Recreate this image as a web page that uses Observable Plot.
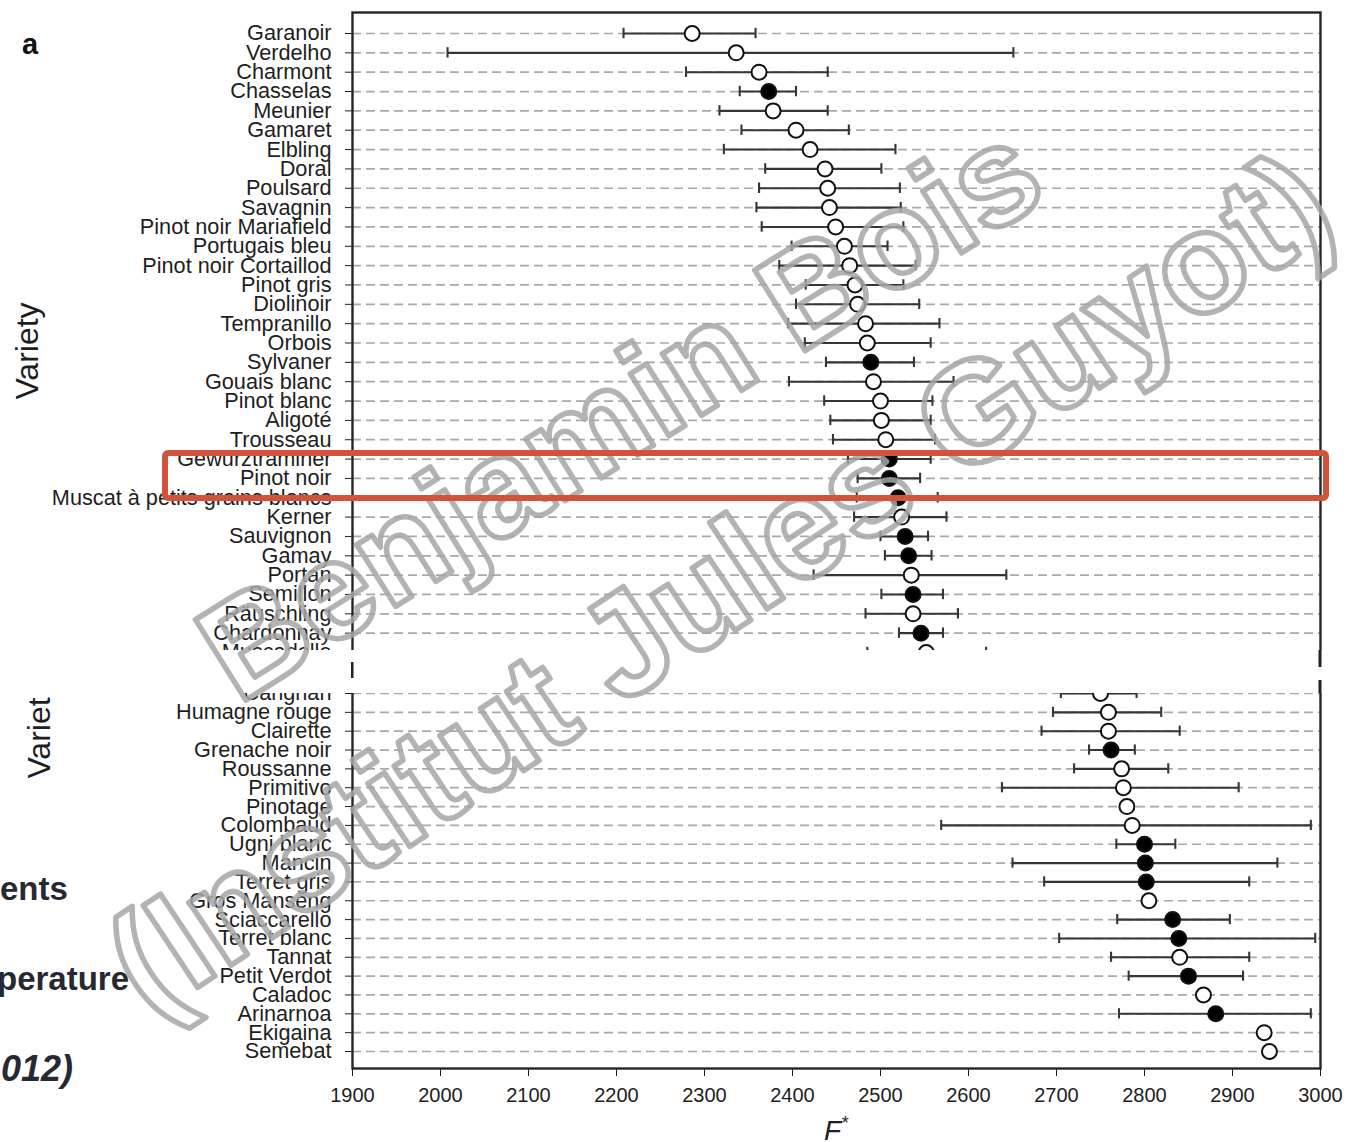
<!DOCTYPE html>
<html>
<head>
<meta charset="utf-8">
<script src="https://cdn.jsdelivr.net/npm/d3@7"></script>
<script src="https://cdn.jsdelivr.net/npm/@observablehq/plot@0.6"></script>
<style>
html,body{margin:0;padding:0;background:#fff;overflow:hidden;}
#page{position:relative;width:1347px;height:1142px;overflow:hidden;background:#fff;}
.clip{position:absolute;left:0;width:1347px;overflow:hidden;}
#top{top:0;height:650px;}
#bot{top:693px;height:449px;}
#top svg{position:absolute;left:0;top:0;}
#bot svg{position:absolute;left:0;top:-93px;}
#ov{position:absolute;left:0;top:0;pointer-events:none;}
</style>
</head>
<body>
<div id="page"><div id="top" class="clip"></div><div id="bot" class="clip"></div></div>
<script>
// ---------- data: upper part ----------
const names1 = ["Garanoir","Verdelho","Charmont","Chasselas","Meunier","Gamaret","Elbling","Doral","Poulsard","Savagnin","Pinot noir Mariafield","Portugais bleu","Pinot noir Cortaillod","Pinot gris","Diolinoir","Tempranillo","Orbois","Sylvaner","Gouais blanc","Pinot blanc","Aligoté","Trousseau","Gewurztraminer","Pinot noir","Muscat à petits grains blancs","Kerner","Sauvignon","Gamay","Portan","Semillon","Räuschling","Chardonnay","Muscadelle"];
const mean1 = [2286,2336,2362,2373,2378,2404,2420,2437,2440,2442,2449,2459,2465,2471,2474,2483,2485,2489,2492,2500,2501,2506,2510,2510,2520,2524,2528,2532,2535,2537,2537,2546,2552];
const lo1 =   [2208,2008,2279,2340,2317,2342,2322,2369,2362,2359,2365,2399,2385,2415,2404,2395,2414,2438,2396,2436,2443,2446,2463,2474,2473,2470,2500,2505,2424,2501,2483,2521,2485];
const hi1 =   [2358,2651,2440,2404,2440,2464,2517,2501,2522,2523,2526,2508,2540,2526,2544,2567,2557,2538,2583,2559,2557,2562,2557,2545,2565,2575,2554,2558,2643,2571,2588,2571,2620];
const filled1=[0,0,0,1,0,0,0,0,0,0,0,0,0,0,0,0,0,1,0,0,0,0,1,1,1,0,1,1,0,1,0,1,0];

// ---------- data: lower part ----------
const names2 = ["Carignan","Humagne rouge","Clairette","Grenache noir","Roussanne","Primitivo","Pinotage","Colombaud","Ugni blanc","Mancin","Terret gris","Gros Manseng","Sciaccarello","Terret blanc","Tannat","Petit Verdot","Caladoc","Arinarnoa","Ekigaina","Semebat"];
const mean2 = [2750,2759,2759,2762,2774,2776,2780,2786,2800,2801,2802,2805,2832,2839,2840,2850,2867,2881,2936,2942];
const lo2 =   [2705,2696,2683,2737,2720,2638,null,2569,2768,2650,2686,null,2769,2703,2762,2782,null,2771,null,null];
const hi2 =   [2791,2819,2840,2789,2827,2907,null,2989,2835,2951,2919,null,2897,2994,2919,2912,null,2989,null,null];
const filled2=[0,0,0,1,0,0,0,0,1,1,1,0,1,1,0,1,0,1,0,0];

const xTicks = [1900,2000,2100,2200,2300,2400,2500,2600,2700,2800,2900,3000];
const xLabel = "F";
const watermark1 = "Benjamin Bois";
const watermark2 = "(Institut Jules Guyot)";
const slideTexts = ["ents","perature","012)"];

const FONT = "'Liberation Sans', Arial, Helvetica, sans-serif";

function panel(names, lo, mean, hi, filled, o) {
  const n = names.length;
  const idx = d3.range(n);
  const rows = names.map((name, i) => ({i, name, lo: lo[i], mean: mean[i], hi: hi[i], filled: filled[i]}));
  const bars = rows.filter(d => d.lo != null);
  const col = "#363636";
  return Plot.plot({
    width: 1347, height: o.height,
    marginLeft: 352, marginRight: 27, marginTop: o.marginTop, marginBottom: o.marginBottom,
    style: {fontFamily: FONT, fontSize: "21.7px", color: "#1e1e1e", background: "transparent", overflow: "visible", maxWidth: "none"},
    x: {domain: [1900, 3000], axis: null},
    y: {type: "linear", domain: [0, n - 1], range: o.yRange, axis: null},
    marks: [
      Plot.ruleY(idx, {y: d => d, stroke: "#a9a9a9", strokeWidth: 1.7, strokeDasharray: "9,5"}),
      Plot.ruleY(bars, {y: "i", x1: "lo", x2: "hi", stroke: col, strokeWidth: 2.1}),
      Plot.ruleX(bars, {x: "lo", y1: d => d.i - 0.27, y2: d => d.i + 0.27, stroke: col, strokeWidth: 2.1}),
      Plot.ruleX(bars, {x: "hi", y1: d => d.i - 0.27, y2: d => d.i + 0.27, stroke: col, strokeWidth: 2.1}),
      Plot.dot(rows, {x: "mean", y: "i", r: 7.5, fill: d => d.filled ? "#000" : "#fff", stroke: "#111", strokeWidth: 2}),
      Plot.axisY({ticks: idx, tickFormat: i => names[i], tickSize: 7, tickPadding: 14, fontSize: 21.7, label: null, stroke: "#222"}),
      o.xAxis ? Plot.axisX({ticks: xTicks, tickFormat: d => String(d), tickSize: 8, tickPadding: 11, fontSize: 20, label: null, stroke: "#222"}) : null,
      Plot.frame({stroke: "#262626", strokeWidth: o.frameWidth})
    ]
  });
}

document.getElementById("top").appendChild(
  panel(names1, lo1, mean1, hi1, filled1, {height: 700, marginTop: 12, marginBottom: 0, yRange: [33, 652], xAxis: false, frameWidth: 2.4})
);
document.getElementById("bot").appendChild(
  panel(names2, lo2, mean2, hi2, filled2, {height: 542, marginTop: 60, marginBottom: 74, yRange: [93, 451], xAxis: true, frameWidth: 2.4})
);

// ---------- overlay: labels, watermark, highlight ----------
const ov = d3.select("#page").append("svg").attr("id", "ov")
  .attr("width", 1347).attr("height", 1142).style("font-family", FONT);

// stitching remnants of the frame inside the gap
ov.append("rect").attr("x", 351).attr("y", 662).attr("width", 2.5).attr("height", 16).attr("fill", "#222");
ov.append("rect").attr("x", 1318.5).attr("y", 650).attr("width", 3).attr("height", 17).attr("fill", "#222");
ov.append("rect").attr("x", 1318.5).attr("y", 680).attr("width", 3).attr("height", 13).attr("fill", "#222");

// panel letter and axis titles
ov.append("text").attr("x", 22).attr("y", 54).attr("font-size", 29).attr("font-weight", "bold").attr("fill", "#111").text("a");
ov.append("text").attr("transform", "translate(38,351) rotate(-90)").attr("text-anchor", "middle")
  .attr("font-size", 32).attr("fill", "#1e1e1e").text("Variety");
ov.append("text").attr("transform", "translate(50,738) rotate(-90)").attr("text-anchor", "middle")
  .attr("font-size", 32).attr("fill", "#1e1e1e").text("Variet");
const fx = ov.append("text").attr("x", 836).attr("y", 1140).attr("text-anchor", "middle")
  .attr("font-size", 28).attr("font-style", "italic").attr("fill", "#1e1e1e");
fx.append("tspan").text(xLabel);
fx.append("tspan").attr("font-size", 18).attr("dy", -11).text("*");

// slide text at the left edge
const sl = ov.append("g").attr("font-weight", "bold").attr("font-size", 33).attr("fill", "#262932");
sl.append("text").attr("x", 0).attr("y", 900).text(slideTexts[0]);
sl.append("text").attr("x", -3).attr("y", 990).text(slideTexts[1]);
sl.append("text").attr("x", 1).attr("y", 1081).attr("font-style", "italic").attr("font-size", 36).text(slideTexts[2]);

// watermark
const wm = ov.append("g").attr("font-weight", "bold")
  .attr("fill", "none").attr("stroke", "#a6a6a6").attr("stroke-width", 5.5)
  .attr("stroke-linejoin", "round").attr("stroke-opacity", 0.85);
wm.append("text").attr("font-size", 138).attr("transform", "translate(238,705) rotate(-32)").text(watermark1);
wm.append("text").attr("font-size", 143).attr("transform", "translate(150,1019) rotate(-33.6)").text(watermark2);

// red highlight box
ov.append("rect").attr("x", 165).attr("y", 453).attr("width", 1161).attr("height", 45)
  .attr("rx", 3).attr("fill", "none").attr("stroke", "#d2533c").attr("stroke-width", 6);
</script>
</body>
</html>
